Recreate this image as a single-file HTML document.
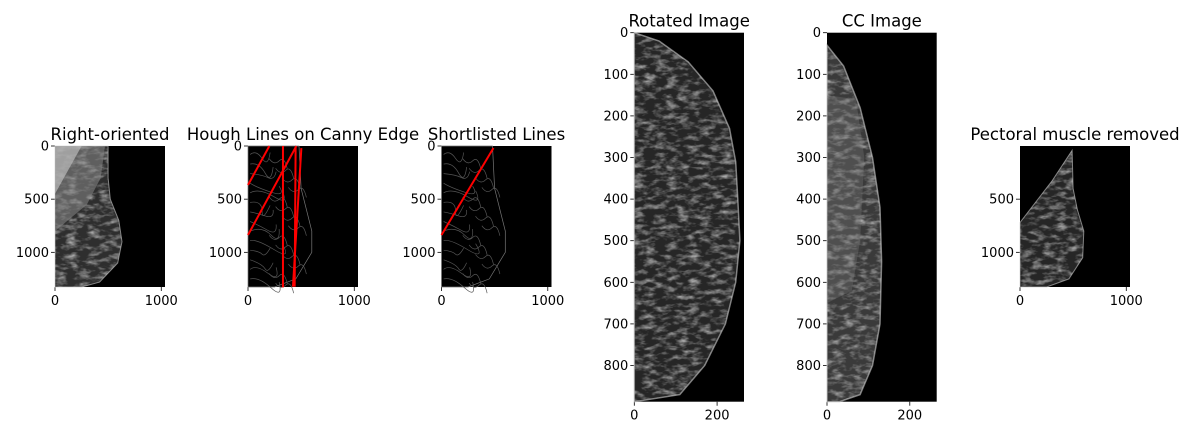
<!DOCTYPE html>
<html><head><meta charset="utf-8"><style>
html,body{margin:0;padding:0;background:#fff;}
svg{display:block;font-family:"DejaVu Sans","Liberation Sans",sans-serif;}
</style></head><body>
<svg id="fig" width="1189" height="435" viewBox="0 0 1189 435" xmlns="http://www.w3.org/2000/svg">
<defs>
<filter id="tex" x="0" y="0" width="100%" height="100%">
<feTurbulence type="fractalNoise" baseFrequency="0.09 0.2" numOctaves="3" seed="4"/>
<feColorMatrix type="matrix" values="0 0 0 0 1  0 0 0 0 1  0 0 0 0 1  2.2 0 0 0 -0.95"/>
</filter>
</defs>
</svg>
<script>
// Hough line segments in image coordinates [x1,y1,x2,y2]
const houghX1=[0,0,329,502,448];
const houghY1=[367,837,0,20,20];
const houghX2=[201,455,329,423,439];
const houghY2=[0,0,1330,1323,1323];
const shortX1=[0];const shortY1=[837];const shortX2=[489];const shortY2=[19];
const smallTicksX=[0,1000];const smallTicksY=[0,500,1000];
const tallTicksX=[0,200];const tallTicksY=[0,100,200,300,400,500,600,700,800];

const NS="http://www.w3.org/2000/svg";
const svg=document.getElementById('fig');
function mk(t,a,p){const e=document.createElementNS(NS,t);for(const k in a)e.setAttribute(k,a[k]);(p||svg).appendChild(e);return e;}

function panel(name,title,x0,y0,w,h,xmax,ymax,tx,ty){
  const g=mk('g',{});
  
  
  const sx=v=>x0+v/xmax*w, sy=v=>y0+v/ymax*h;
  const bg=mk('rect',{x:x0,y:y0,width:w,height:h,fill:'#000'},g);
  
  
  const t=mk('text',{x:x0+w/2,y:y0-6,'text-anchor':'middle','font-size':'16.5',fill:'#000'},g);
  t.textContent=title;
  
  
  tx.forEach(v=>{mk('line',{x1:sx(v),x2:sx(v),y1:y0+h,y2:y0+h+4,stroke:'#000','stroke-width':0.8},g);
    const l=mk('text',{x:sx(v),y:y0+h+18,'text-anchor':'middle','font-size':'13',fill:'#000'},g);l.textContent=v;
    
    });
  ty.forEach(v=>{mk('line',{x1:x0-4,x2:x0,y1:sy(v),y2:sy(v),stroke:'#000','stroke-width':0.8},g);
    const l=mk('text',{x:x0-6,y:sy(v)+4.5,'text-anchor':'end','font-size':'13',fill:'#000'},g);l.textContent=v;
    
    });
  return {g,sx,sy,x0,y0,w,h};
}
let cid=0;
function tissue(p,d,base,op,rim){
  const id='c'+(cid++);
  const cp=mk('clipPath',{id:id},p.g);mk('path',{d:d},cp);
  mk('path',{d:d,fill:base},p.g);
  mk('rect',{x:p.x0,y:p.y0,width:p.w,height:p.h,filter:'url(#tex)','clip-path':'url(#'+id+')',opacity:op},p.g);
  mk('path',{d:d,fill:'none',stroke:'#ccc','stroke-width':rim||1,opacity:0.6},p.g);
}
function P(p,pts){return pts.map((q,i)=>(i?'L':'M')+p.sx(q[0]).toFixed(1)+','+p.sy(q[1]).toFixed(1)).join(' ')+'Z';}

// Panel 1
const p1=panel('right-oriented-panel','Right-oriented',55,146,110,141,1035,1326,smallTicksX,smallTicksY);
tissue(p1,P(p1,[[0,0],[500,0],[500,300],[520,500],[600,700],[630,900],[590,1100],[420,1280],[250,1326],[0,1326]]),'#2e2e2e',0.6);
mk('path',{d:P(p1,[[0,0],[470,0],[430,300],[300,550],[0,800]]),fill:'#888',opacity:0.55},p1.g);
mk('path',{d:P(p1,[[0,0],[250,0],[0,450]]),fill:'#bbb',opacity:0.7},p1.g);

// Canny edges helper
function edges(p){
  mk('path',{d:P(p,[[480,0],[500,400],[600,800],[600,1000],[450,1250],[250,1326],[0,1326],[0,0]]),fill:'none',stroke:'#777','stroke-width':0.7},p.g);
  for(let i=0;i<14;i++){const yy=80+i*90;
    mk('path',{d:'M'+p.sx(20)+','+p.sy(yy)+' q'+(6+i%3*3)+','+(-5+i%4*3)+' '+(12+i%5*3)+','+(4+i%2*5)+' t8,-6',fill:'none',stroke:'#555','stroke-width':0.7},p.g);
    mk('path',{d:'M'+p.sx(200+i%4*60)+','+p.sy(yy+40)+' q5,7 10,2 t8,8',fill:'none',stroke:'#555','stroke-width':0.7},p.g);}
}
// Panel 2
const p2=panel('hough-lines-panel','Hough Lines on Canny Edge',248,146,110,141,1035,1326,smallTicksX,smallTicksY);
edges(p2);
houghX1.forEach((v,i)=>{const l=mk('line',{x1:p2.sx(v),y1:p2.sy(houghY1[i]),x2:p2.sx(houghX2[i]),y2:p2.sy(houghY2[i]),stroke:'#f00','stroke-width':2},p2.g);
  
  });
// Panel 3
const p3=panel('shortlisted-lines-panel','Shortlisted Lines',441.5,146,110,141,1035,1326,smallTicksX,smallTicksY);
edges(p3);
shortX1.forEach((v,i)=>{const l=mk('line',{x1:p3.sx(v),y1:p3.sy(shortY1[i]),x2:p3.sx(shortX2[i]),y2:p3.sy(shortY2[i]),stroke:'#f00','stroke-width':2},p3.g);
  
  });
// Panel 4
const p4=panel('rotated-image-panel','Rotated Image',634.3,32.7,109.7,369,265,887,tallTicksX,tallTicksY);
tissue(p4,P(p4,[[0,0],[60,20],[130,70],[190,140],[230,230],[245,310],[250,400],[255,500],[245,600],[220,700],[170,800],[110,870],[0,887]]),'#262626',0.6,1.5);
// Panel 5
const p5=panel('cc-image-panel','CC Image',827,32.7,109.7,369,265,887,tallTicksX,tallTicksY);
tissue(p5,P(p5,[[0,30],[40,80],[80,180],[110,300],[128,420],[132,550],[128,700],[110,800],[80,870],[30,887],[0,887]]),'#3a3a3a',0.55,1.5);
mk('path',{d:P(p5,[[0,150],[70,160],[90,300],[80,500],[60,620],[0,650]]),fill:'#777',opacity:0.35},p5.g);
// Panel 6
const p6=panel('pectoral-removed-panel','Pectoral muscle removed',1020,146,110,141,1035,1326,smallTicksX,[500,1000]);
tissue(p6,P(p6,[[490,40],[500,400],[540,600],[600,800],[590,1050],[460,1250],[250,1326],[0,1326],[0,720],[300,330]]),'#262626',0.6);
</script>
</body></html>
